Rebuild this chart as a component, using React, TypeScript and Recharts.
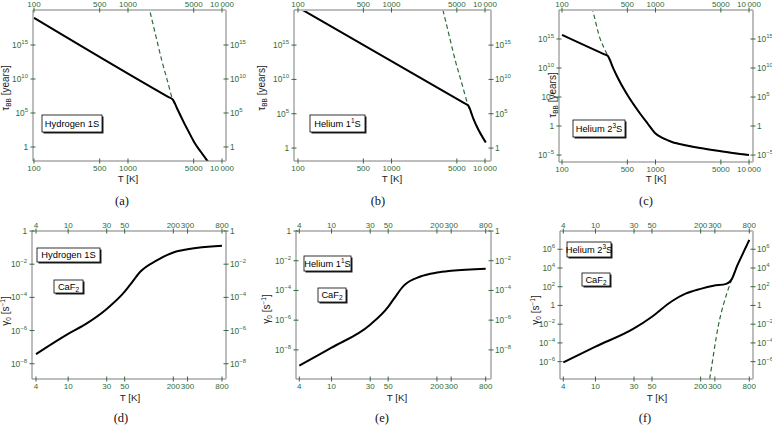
import React from "react";
import { LineChart, Line, XAxis, YAxis } from "recharts";

// ---- data ----
// (a) Hydrogen 1S, blackbody lifetime [years] vs T [K]
const tempA = [100, 2700, 2985, 3400, 3900, 4500, 5140, 6000, 6870, 7300];
const tauA = [1e19, 2.2e7, 1e7, 2.5e5, 5e3, 110, 3.5, 0.17, 0.0126, 0.004];
const tempADash = [1650, 1700, 2000, 2280, 2600, 2985, 3400, 3900, 4500, 5140, 6000, 6870, 7300];
const tauADash = [7e20, 1.3e20, 1.1e16, 6.3e12, 9e9, 1e7, 2.5e5, 5e3, 110, 3.5, 0.17, 0.0126, 0.004];

// (b) Helium 1¹S
const tempB = [100, 6000, 6600, 7500, 8200, 10200];
const tauB = [3.2e20, 3.4e6, 1.6e6, 2e4, 1.26e3, 6.3];
const tempBDash = [3400, 3550, 4100, 4800, 5600, 6600, 7500, 8200, 10200];
const tauBDash = [1.6e21, 1.3e20, 4e16, 6.3e12, 4e9, 1.6e6, 2e4, 1.26e3, 6.3];

// (c) Helium 2³S
const tempC = [100, 280, 308, 350, 385, 490, 680, 820, 1000, 1200, 1500, 2150, 3000, 5000, 10000];
const tauC = [5e15, 2.5e12, 1.26e12, 1.26e10, 4.7e8, 4e5, 160, 3, 0.05, 8e-3, 1.8e-3, 4.5e-4, 1.6e-4, 4.5e-5, 1e-5];
const tempCDash = [200, 213, 255, 285, 308, 350, 385, 490, 680, 820, 1000, 1200, 1500, 2150, 3000, 5000, 10000];
const tauCDash = [5e21, 1e20, 1.26e15, 2e13, 1.26e12, 1.26e10, 4.7e8, 4e5, 160, 3, 0.05, 8e-3, 1.8e-3, 4.5e-4, 1.6e-4, 4.5e-5, 1e-5];

// (d) Hydrogen 1S in CaF2, gamma_0 [1/s]
const tempD = [4, 10, 17, 30, 50, 60, 78, 125, 200, 300, 800];
const gammaD = [3.8e-8, 6.3e-7, 2.7e-6, 2e-5, 2.2e-4, 6.8e-4, 3.5e-3, 1.7e-2, 5.1e-2, 7.9e-2, 0.13];

// (e) Helium 1¹S in CaF2
const tempE = [4, 10, 30, 50, 60, 78, 125, 200, 300, 800];
const gammaE = [8.7e-10, 1.4e-8, 5e-7, 7.9e-6, 3.2e-5, 2.1e-4, 8.7e-4, 1.6e-3, 2.1e-3, 2.9e-3];

// (f) Helium 2³S in CaF2
const tempF = [4, 10, 30, 50, 88, 130, 200, 288, 415, 489, 564, 650, 800];
const gammaF = [8.5e-7, 4e-5, 3.5e-3, 6.3e-2, 2.8, 18, 59, 126, 200, 710, 1.6e4, 2.2e5, 1e7];
const tempFDash = [250, 258, 333, 430, 489, 564, 650, 800];
const gammaFDash = [2.5e-9, 1.26e-8, 8.7e-3, 32, 710, 1.6e4, 2.2e5, 1e7];

// ticks
const tickTempHigh = [100, 500, 1000, 5000, 10000];
const tickTempLow = [4, 10, 30, 50, 200, 300, 800];
const tickTauAB = [1, 1e5, 1e10, 1e15];
const tickTauC = [1e-5, 1, 1e5, 1e10, 1e15];
const tickGammaDE = [1e-8, 1e-6, 1e-4, 1e-2, 1];
const tickGammaF = [1e-6, 1e-4, 1e-2, 1, 1e2, 1e4, 1e6];

const GREEN = "#2f6b3a";
const FONT = "'Liberation Sans', Arial, sans-serif";

type Pt = { T: number; v: number };
const zip = (t: number[], v: number[]): Pt[] => t.map((T, i) => ({ T, v: v[i] }));

const fmtTemp = (v: number) => (v >= 10000 ? "10\u2009000" : String(v));

function TempTick(props: any) {
  const { x, y, payload, side } = props;
  const ty = side === "top" ? y - 3 : y + 9.5;
  return (
    <g>
      <line x1={x} x2={x} y1={y - 2.5} y2={y + 2.5} stroke={GREEN} strokeWidth={1} />
      <text x={x} y={ty} textAnchor="middle" fill={GREEN} fontSize={8} fontFamily={FONT}>
        {fmtTemp(payload.value)}
      </text>
    </g>
  );
}

function PowTick(props: any) {
  const { x, y, payload, side } = props;
  const e = Math.round(Math.log10(payload.value));
  const left = side === "left";
  return (
    <g>
      <line x1={x - 2.5} x2={x + 2.5} y1={y} y2={y} stroke={GREEN} strokeWidth={1} />
      <text
        x={left ? x - 5 : x + 4}
        y={y + 3}
        textAnchor={left ? "end" : "start"}
        fill={GREEN}
        fontSize={8.3}
        fontFamily={FONT}
      >
        {e === 0 ? (
          "1"
        ) : (
          <>
            <tspan>10</tspan>
            <tspan dy={-4} fontSize={6}>
              {String(e).replace("-", "\u2212")}
            </tspan>
          </>
        )}
      </text>
    </g>
  );
}

type PanelProps = {
  left: number;
  top: number;
  width: number;
  height: number;
  plot: [number, number, number, number];
  xDomain: [number, number];
  yDomain: [number, number];
  xTicks: number[];
  yTicks: number[];
  solid: Pt[];
  dashed?: Pt[];
};

function Panel({ left, top, width, height, plot, xDomain, yDomain, xTicks, yTicks, solid, dashed }: PanelProps) {
  const [bx1, by1, bx2, by2] = plot;
  const common = { type: "number" as const, scale: "log" as const, allowDataOverflow: true, tickSize: 0, tickMargin: 0, tickLine: false, interval: 0 as const };
  return (
    <div style={{ position: "absolute", left, top, width, height }}>
      <LineChart width={width} height={height} margin={{ top: 0, right: 0, bottom: 0, left: 0 }}>
        <XAxis
          {...common}
          xAxisId="b"
          orientation="bottom"
          dataKey="T"
          domain={xDomain}
          ticks={xTicks}
          height={height - by2}
          axisLine={{ stroke: "#7d7d7d", strokeWidth: 1 }}
          tick={(p: any) => <TempTick {...p} side="bottom" />}
        />
        <XAxis
          {...common}
          xAxisId="t"
          orientation="top"
          dataKey="T"
          domain={xDomain}
          ticks={xTicks}
          height={by1}
          axisLine={{ stroke: "#bdbdbd", strokeWidth: 2 }}
          tick={(p: any) => <TempTick {...p} side="top" />}
        />
        <YAxis
          {...common}
          yAxisId="l"
          orientation="left"
          domain={yDomain}
          ticks={yTicks}
          width={bx1}
          axisLine={{ stroke: "#7d7d7d", strokeWidth: 1 }}
          tick={(p: any) => <PowTick {...p} side="left" />}
        />
        <YAxis
          {...common}
          yAxisId="r"
          orientation="right"
          domain={yDomain}
          ticks={yTicks}
          width={width - bx2}
          axisLine={{ stroke: "#bdbdbd", strokeWidth: 2 }}
          tick={(p: any) => <PowTick {...p} side="right" />}
        />
        {dashed && (
          <Line
            xAxisId="b"
            yAxisId="l"
            data={dashed}
            dataKey="v"
            type="monotone"
            stroke={GREEN}
            strokeWidth={1.2}
            strokeDasharray="4.5 3"
            dot={false}
            isAnimationActive={false}
          />
        )}
        <Line
          xAxisId="b"
          yAxisId="l"
          data={solid}
          dataKey="v"
          type="monotone"
          stroke="#000"
          strokeWidth={2}
          dot={false}
          isAnimationActive={false}
        />
      </LineChart>
    </div>
  );
}

function Box({ x, y, w, h, children }: { x: number; y: number; w: number; h: number; children: React.ReactNode }) {
  return (
    <g>
      <rect x={x + 1.5} y={y + 1.5} width={w} height={h} fill="#222" />
      <rect x={x} y={y} width={w} height={h} fill="#fff" stroke="#000" strokeWidth={0.8} />
      <text x={x + w / 2} y={y + h / 2 + 3.2} textAnchor="middle" fontSize={9.3} fontFamily={FONT} fill="#000">
        {children}
      </text>
    </g>
  );
}

function TauTitle({ x, y }: { x: number; y: number }) {
  return (
    <text transform={`translate(${x},${y}) rotate(-90)`} textAnchor="middle" fontSize={10} fontFamily={FONT} fill="#222">
      τ<tspan dy={2} fontSize={6.5}>BB</tspan>
      <tspan dy={-2}> [years]</tspan>
    </text>
  );
}

function GammaTitle({ x, y }: { x: number; y: number }) {
  return (
    <text transform={`translate(${x},${y}) rotate(-90)`} textAnchor="middle" fontSize={10} fontFamily={FONT} fill="#222">
      γ<tspan dy={2} fontSize={6.5}>0</tspan>
      <tspan dy={-2}> [s</tspan>
      <tspan dy={-4} fontSize={6.5}>−1</tspan>
      <tspan dy={4}>]</tspan>
    </text>
  );
}

function XTitle({ x, y }: { x: number; y: number }) {
  return (
    <text x={x} y={y} textAnchor="middle" fontSize={9.8} fontFamily={FONT} fill="#222">
      T [K]
    </text>
  );
}

function Caption({ x, y, children }: { x: number; y: number; children: React.ReactNode }) {
  return (
    <text x={x} y={y} textAnchor="middle" fontSize={12.5} fontFamily="'Liberation Serif', 'DejaVu Serif', serif" fill="#111">
      {children}
    </text>
  );
}

export default function App() {
  return (
    <div style={{ position: "absolute", left: 0, top: 0, width: 772, height: 425, background: "#fff", overflow: "hidden" }}>
      <Panel left={0} top={0} width={258} height={180} plot={[33, 10, 226, 161]} xDomain={[97.6, 11030]} yDomain={[8.7e-3, 1.4e20]} xTicks={tickTempHigh} yTicks={tickTauAB} solid={zip(tempA, tauA)} dashed={zip(tempADash, tauADash)} />
      <Panel left={258} top={0} width={256} height={180} plot={[36, 10, 233, 161]} xDomain={[90.6, 11590]} yDomain={[1.3e-2, 1.3e20]} xTicks={tickTempHigh} yTicks={tickTauAB} solid={zip(tempB, tauB)} dashed={zip(tempBDash, tauBDash)} />
      <Panel left={514} top={0} width={258} height={180} plot={[45, 10, 239, 162]} xDomain={[92.9, 11030]} yDomain={[6.3e-7, 1e20]} xTicks={tickTempHigh} yTicks={tickTauC} solid={zip(tempC, tauC)} dashed={zip(tempCDash, tauCDash)} />
      <Panel left={0} top={215} width={258} height={177} plot={[32, 16, 226, 164]} xDomain={[3.57, 897]} yDomain={[1.2e-9, 1]} xTicks={tickTempLow} yTicks={tickGammaDE} solid={zip(tempD, gammaD)} />
      <Panel left={258} top={215} width={256} height={177} plot={[38, 16, 233, 164]} xDomain={[3.64, 930]} yDomain={[1.1e-10, 1]} xTicks={tickTempLow} yTicks={tickGammaDE} solid={zip(tempE, gammaE)} />
      <Panel left={514} top={215} width={258} height={177} plot={[46, 16, 239, 164]} xDomain={[3.64, 889]} yDomain={[1.4e-8, 8.9e7]} xTicks={tickTempLow} yTicks={tickGammaF} solid={zip(tempF, gammaF)} dashed={zip(tempFDash, gammaFDash)} />

      <svg width={772} height={425} style={{ position: "absolute", left: 0, top: 0, pointerEvents: "none" }}>
        <TauTitle x={9} y={88} />
        <TauTitle x={265} y={88} />
        <TauTitle x={556} y={95} />
        <GammaTitle x={9} y={311} />
        <GammaTitle x={270} y={309} />
        <GammaTitle x={539} y={310} />

        <XTitle x={128} y={182} />
        <XTitle x={392} y={182} />
        <XTitle x={656} y={182} />
        <XTitle x={130} y={401} />
        <XTitle x={397} y={401} />
        <XTitle x={657} y={401} />

        <Caption x={122} y={205}>(a)</Caption>
        <Caption x={378} y={205}>(b)</Caption>
        <Caption x={646} y={205}>(c)</Caption>
        <Caption x={121} y={422}>(d)</Caption>
        <Caption x={382} y={422}>(e)</Caption>
        <Caption x={645} y={422}>(f)</Caption>

        <Box x={42} y={115} w={60} h={17}>Hydrogen 1S</Box>
        <Box x={310} y={115} w={55} h={17}>
          Helium 1<tspan dy={-3.5} fontSize={6.5}>1</tspan>
          <tspan dy={3.5}>S</tspan>
        </Box>
        <Box x={573} y={120} w={52} h={17}>
          Helium 2<tspan dy={-3.5} fontSize={6.5}>3</tspan>
          <tspan dy={3.5}>S</tspan>
        </Box>

        <Box x={37} y={248} w={63} h={14}>Hydrogen 1S</Box>
        <Box x={54} y={280} w={29} h={13}>
          CaF<tspan dy={2} fontSize={6.5}>2</tspan>
        </Box>
        <Box x={304} y={256} w={47} h={15}>
          Helium 1<tspan dy={-3.5} fontSize={6.5}>1</tspan>
          <tspan dy={3.5}>S</tspan>
        </Box>
        <Box x={318} y={288} w={28} h={14}>
          CaF<tspan dy={2} fontSize={6.5}>2</tspan>
        </Box>
        <Box x={567} y={242} w={44} h={15}>
          Helium 2<tspan dy={-3.5} fontSize={6.5}>3</tspan>
          <tspan dy={3.5}>S</tspan>
        </Box>
        <Box x={582} y={273} w={28} h={13}>
          CaF<tspan dy={2} fontSize={6.5}>2</tspan>
        </Box>
      </svg>
    </div>
  );
}
